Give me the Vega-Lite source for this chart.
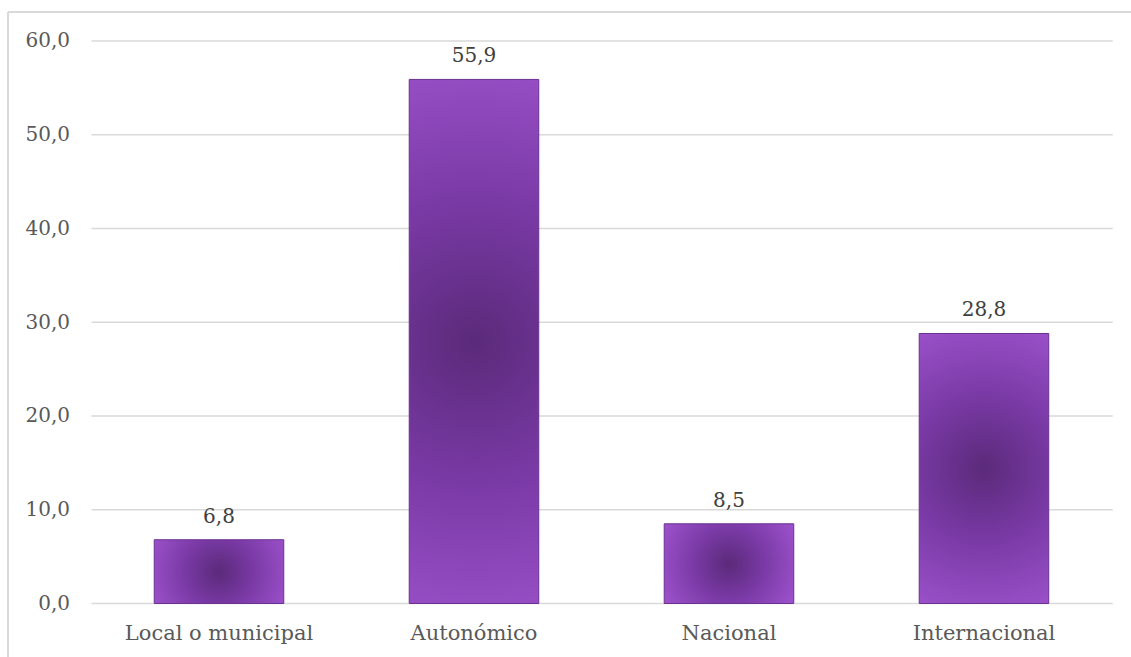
{
  "$schema": "https://vega.github.io/schema/vega-lite/v6.json",
  "autosize": {"type": "none"},
  "padding": {"left": 8, "top": 12, "right": 0, "bottom": 0},
  "width": 1123,
  "height": 645,
  "background": "#ffffff",
  "config": {
    "view": {"stroke": null},
    "font": "DejaVu Serif",
    "locale": {"number": {"decimal": ",", "thousands": ".", "grouping": [3], "currency": ["", " €"]}}
  },
  "datasets": {
    "bars": [
      {"ambito": "Local o municipal", "valor": 6.8},
      {"ambito": "Autonómico", "valor": 55.9},
      {"ambito": "Nacional", "valor": 8.5},
      {"ambito": "Internacional", "valor": 28.8}
    ],
    "grid": [{"v": 0}, {"v": 10}, {"v": 20}, {"v": 30}, {"v": 40}, {"v": 50}, {"v": 60}]
  },
  "layer": [
    {
      "layer": [
        {
          "data": {"name": "grid"},
          "mark": {"type": "rule", "color": "#d9d9d9", "strokeWidth": 1.5},
          "encoding": {
            "y": {
              "field": "v", "type": "quantitative",
              "scale": {"domain": [-5.707, 63.093], "nice": false, "zero": false},
              "axis": {
                "values": [0, 10, 20, 30, 40, 50, 60], "format": ".1f",
                "offset": -83.5, "labelPadding": 22, "domain": false, "ticks": false, "grid": false,
                "title": null, "labelFontSize": 20, "labelColor": "#595959", "labelFont": "DejaVu Serif"
              }
            },
            "x": {"datum": 0, "type": "quantitative", "scale": {"domain": [-0.08177, 1.01792], "nice": false, "zero": false}, "axis": null},
            "x2": {"datum": 1}
          }
        },
        {
          "data": {"values": [{}]},
          "mark": {"type": "rule", "color": "#d9d9d9", "strokeWidth": 2},
          "encoding": {
            "y": {"datum": 63.093, "type": "quantitative", "scale": {"domain": [-5.707, 63.093], "nice": false, "zero": false}},
            "x": {"datum": -0.08177, "type": "quantitative", "scale": {"domain": [-0.08177, 1.01792], "nice": false, "zero": false}, "axis": null},
            "x2": {"datum": 1.01792}
          }
        },
        {
          "data": {"values": [{}]},
          "mark": {"type": "rule", "color": "#d9d9d9", "strokeWidth": 2},
          "encoding": {
            "y": {"datum": 63.093, "type": "quantitative", "scale": {"domain": [-5.707, 63.093], "nice": false, "zero": false}},
            "y2": {"datum": -5.707},
            "x": {"datum": -0.08177, "type": "quantitative", "scale": {"domain": [-0.08177, 1.01792], "nice": false, "zero": false}, "axis": null}
          }
        }
      ]
    },
    {
      "data": {"name": "bars"},
      "encoding": {
        "x": {
          "field": "ambito", "type": "nominal", "sort": null,
          "scale": {"paddingInner": 0.492, "paddingOuter": 0.448, "align": 0.64},
          "axis": {
            "orient": "bottom", "offset": -53.5, "domain": false, "ticks": false, "labelPadding": 19,
            "labelAngle": 0, "labelLimit": 400, "title": null, "labelFontSize": 21, "labelColor": "#595959", "labelFont": "DejaVu Serif"
          }
        },
        "y": {"field": "valor", "type": "quantitative", "scale": {"domain": [-5.707, 63.093], "nice": false, "zero": false}}
      },
      "layer": [
        {
          "mark": {
            "type": "bar",
            "fill": {
              "gradient": "radial", "x1": 0.5, "y1": 0.5, "x2": 0.5, "y2": 0.5, "r1": 0, "r2": 0.55,
              "stops": [
                {"offset": 0, "color": "#5b2a7a"},
                {"offset": 0.5, "color": "#7a3aa6"},
                {"offset": 1, "color": "#9a50c8"}
              ]
            },
            "stroke": "#6a3190",
            "strokeWidth": 1
          }
        },
        {
          "mark": {"type": "text", "baseline": "alphabetic", "dy": -17, "fontSize": 20, "color": "#404040", "font": "DejaVu Serif"},
          "encoding": {"text": {"field": "valor", "type": "quantitative", "format": ".1f"}}
        }
      ]
    }
  ],
  "resolve": {"scale": {"x": "independent"}}
}
